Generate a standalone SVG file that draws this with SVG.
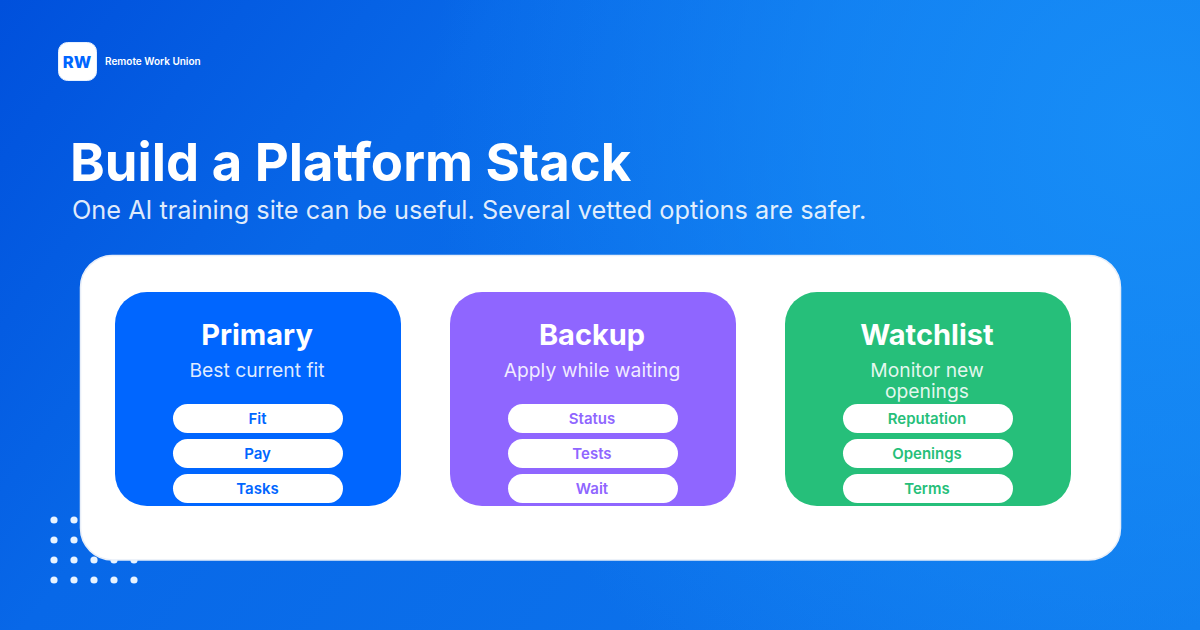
<svg xmlns="http://www.w3.org/2000/svg" width="1200" height="630" viewBox="0 0 1200 630">
<style>
text{font-family:Inter,"Noto Sans","Liberation Sans",sans-serif}
.h{font-size:29px;font-weight:700;fill:#fff;text-anchor:middle}
.s{font-size:19.3px;font-weight:400;fill:#fff;fill-opacity:.88;text-anchor:middle}
.p{fill:#fff}
.l{font-size:15px;font-weight:600;text-anchor:middle}
.d{fill:#e8f3ff}
</style>
<defs>
<linearGradient id="bg" gradientUnits="userSpaceOnUse" x1="0" y1="0" x2="1062" y2="810">
<stop offset="0" stop-color="#0050dc"/><stop offset="0.3" stop-color="#0868e8"/><stop offset="1" stop-color="#0f78ec"/>
</linearGradient>
<radialGradient id="glow" gradientUnits="userSpaceOnUse" cx="1150" cy="130" r="720">
<stop offset="0" stop-color="#1890f8" stop-opacity=".9"/><stop offset=".45" stop-color="#1890f8" stop-opacity=".6"/><stop offset="1" stop-color="#1890f8" stop-opacity="0"/>
</radialGradient>
</defs>
<rect width="1200" height="630" fill="url(#bg)"/>
<rect width="1200" height="630" fill="url(#glow)"/>
<g id="dots">
<circle class="d" cx="54" cy="520" r="3.6"/><circle class="d" cx="74" cy="520" r="3.6"/>
<circle class="d" cx="54" cy="540" r="3.6"/><circle class="d" cx="74" cy="540" r="3.6"/>
<circle class="d" cx="54" cy="560" r="3.6"/><circle class="d" cx="74" cy="560" r="3.6"/><circle class="d" cx="94" cy="560" r="3.6"/><circle class="d" cx="114" cy="560" r="3.6"/><circle class="d" cx="134" cy="560" r="3.6"/>
<circle class="d" cx="54" cy="580" r="3.6"/><circle class="d" cx="74" cy="580" r="3.6"/><circle class="d" cx="94" cy="580" r="3.6"/><circle class="d" cx="114" cy="580" r="3.6"/><circle class="d" cx="134" cy="580" r="3.6"/>
</g>
<g id="logo">
<rect x="58.5" y="42.5" width="38" height="38" rx="9" fill="#fff" stroke="#e6f0fe" stroke-width="1"/>
<text x="77" y="68" font-size="16.5" font-weight="800" fill="#0066ff" text-anchor="middle">RW</text>
<text x="105" y="65" font-size="10" font-weight="600" fill="#fff">Remote Work Union</text>
</g>
<g id="title">
<text x="70" y="181" font-size="52.6" font-weight="700" fill="#fff">Build a Platform Stack</text>
<text x="72" y="219" font-size="25.3" font-weight="400" fill="#fff" fill-opacity=".88">One AI training site can be useful. Several vetted options are safer.</text>
</g>
<g id="panel"><rect x="80.5" y="255.500" width="1040" height="304.500" rx="32" fill="#fff" stroke="#e8eef8" stroke-width="1.5"/></g>
<g id="primary">
<rect x="115" y="292" width="286" height="214" rx="32" fill="#0066ff"/>
<text class="h" x="257" y="345">Primary</text>
<text class="s" x="257" y="376.500">Best current fit</text>
<rect class="p" x="173" y="404" width="170" height="29" rx="14.5"/><text class="l" x="257.500" y="424" fill="#0066ff">Fit</text>
<rect class="p" x="173" y="439" width="170" height="29" rx="14.5"/><text class="l" x="257.500" y="459" fill="#0066ff">Pay</text>
<rect class="p" x="173" y="474" width="170" height="29" rx="14.5"/><text class="l" x="257.500" y="494" fill="#0066ff">Tasks</text>
</g>
<g id="backup">
<rect x="450" y="292" width="286" height="214" rx="32" fill="#8f66ff"/>
<text class="h" x="592" y="345">Backup</text>
<text class="s" x="592" y="376.500">Apply while waiting</text>
<rect class="p" x="508" y="404" width="170" height="29" rx="14.5"/><text class="l" x="592" y="424" fill="#8f66ff">Status</text>
<rect class="p" x="508" y="439" width="170" height="29" rx="14.5"/><text class="l" x="592" y="459" fill="#8f66ff">Tests</text>
<rect class="p" x="508" y="474" width="170" height="29" rx="14.5"/><text class="l" x="592" y="494" fill="#8f66ff">Wait</text>
</g>
<g id="watchlist">
<rect x="785" y="292" width="286" height="214" rx="32" fill="#26bf7a"/>
<text class="h" x="927" y="345">Watchlist</text>
<text class="s" x="927" y="376.500">Monitor new</text>
<text class="s" x="927" y="398">openings</text>
<rect class="p" x="843" y="404" width="170" height="29" rx="14.5"/><text class="l" x="927" y="424" fill="#26bf7a">Reputation</text>
<rect class="p" x="843" y="439" width="170" height="29" rx="14.5"/><text class="l" x="927" y="459" fill="#26bf7a">Openings</text>
<rect class="p" x="843" y="474" width="170" height="29" rx="14.5"/><text class="l" x="927" y="494" fill="#26bf7a">Terms</text>
</g>
<g id="connectors"></g>
</svg>
